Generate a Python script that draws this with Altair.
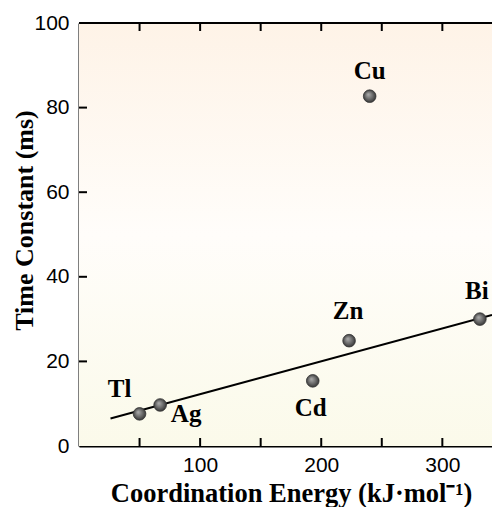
import altair as alt
import pandas as pd

# data
metals = ["Tl", "Ag", "Cd", "Zn", "Bi", "Cu"]
energy = [50, 67, 193, 223, 331, 240]
tau = [7.6, 9.7, 15.4, 24.9, 30.0, 82.7]
label_dx = [-20, 26, -2, -1, -3, 0]
label_dy = [-25, 9, 27, -30, -28, -25]

fit_x = [26, 341]
fit_y = [6.5, 31.0]

x_minor = [50, 100, 150, 200, 250, 300]
y_minor = [20, 40, 60, 80]
x_labels = [100, 200, 300]
y_labels = [0, 20, 40, 60, 80, 100]

W, H = 413, 423
XDOM = [0, 341]
YDOM = [0, 100]

pts = pd.DataFrame({"m": metals, "e": energy, "t": tau, "dx": label_dx, "dy": label_dy})
fit = pd.DataFrame({"e": fit_x, "t": fit_y})
xt = pd.DataFrame({"v": x_minor})
yt = pd.DataFrame({"v": y_minor})

xs = alt.Scale(domain=XDOM, nice=False, zero=False)
ys = alt.Scale(domain=YDOM, nice=False, zero=False)

bg = alt.Chart(pd.DataFrame({"a": [0]})).mark_rect(
    fill=alt.LinearGradient(
        gradient="linear", x1=0, y1=0, x2=0, y2=1,
        stops=[alt.GradientStop(color="#fef3e7", offset=0),
               alt.GradientStop(color="#fffdfa", offset=0.5),
               alt.GradientStop(color="#fbfaea", offset=1)]),
    stroke=None,
).encode(x=alt.value(0), x2=alt.value(W), y=alt.value(0), y2=alt.value(H))

line = alt.Chart(fit).mark_line(color="black", strokeWidth=2, clip=True).encode(
    x=alt.X("e:Q", scale=xs, axis=alt.Axis(
        values=x_labels, title="Coordination Energy (kJ·mol⁻¹)", grid=False,
        ticks=False, tickSize=0, labelPadding=8,
        labelFont="Liberation Sans", labelFontSize=21, labelColor="black",
        domainColor="black", domainWidth=2,
        titleFont="Liberation Serif", titleFontSize=26.5, titleFontWeight="bold",
        titleColor="black", titleBaseline="alphabetic", titleY=55, titleX=212)),
    y=alt.Y("t:Q", scale=ys, axis=alt.Axis(
        values=y_labels, title="Time Constant (ms)", grid=False,
        ticks=False, tickSize=0, labelPadding=10,
        labelFont="Liberation Sans", labelFontSize=21, labelColor="black",
        domainColor="black", domainWidth=2,
        titleFont="Liberation Serif", titleFontSize=26, titleFontWeight="bold",
        titleColor="black", titleBaseline="alphabetic", titleX=-47, titleY=197,
        titleAngle=-90)),
)

xticks_b = alt.Chart(xt).mark_rule(color="black", strokeWidth=2).encode(
    x=alt.X("v:Q", scale=xs), y=alt.value(H - 8), y2=alt.value(H))
xticks_t = alt.Chart(xt).mark_rule(color="black", strokeWidth=2).encode(
    x=alt.X("v:Q", scale=xs), y=alt.value(0), y2=alt.value(8))
yticks = alt.Chart(yt).mark_rule(color="black", strokeWidth=2).encode(
    y=alt.Y("v:Q", scale=ys), x=alt.value(0), x2=alt.value(8))
top = alt.Chart(pd.DataFrame({"a": [0]})).mark_rule(color="black", strokeWidth=2).encode(
    x=alt.value(0), x2=alt.value(W), y=alt.value(0))

points = alt.Chart(pts).mark_point(
    filled=True, size=160, opacity=1,
    fill=alt.RadialGradient(
        gradient="radial", x1=0.38, y1=0.35, r1=0.0, x2=0.5, y2=0.5, r2=0.55,
        stops=[alt.GradientStop(color="#b0b0b0", offset=0),
               alt.GradientStop(color="#6a6a6a", offset=0.55),
               alt.GradientStop(color="#2e2e2e", offset=1)]),
    stroke="#333333", strokeWidth=0.8,
).encode(x=alt.X("e:Q", scale=xs), y=alt.Y("t:Q", scale=ys))

labels = []
for m, e, t, dx, dy in zip(metals, energy, tau, label_dx, label_dy):
    d = pd.DataFrame({"m": [m], "e": [e], "t": [t]})
    labels.append(alt.Chart(d).mark_text(
        font="Liberation Serif", fontSize=25, fontWeight="bold", color="black",
        dx=dx, dy=dy, align="center", baseline="middle").encode(
        x=alt.X("e:Q", scale=xs), y=alt.Y("t:Q", scale=ys), text="m:N"))

chart = alt.layer(bg, line, xticks_b, xticks_t, yticks, top, points, *labels).properties(
    width=W, height=H,
    autosize=alt.AutoSizeParams(type="none"),
    padding={"left": 79, "top": 23, "right": 0, "bottom": 61},
).configure_view(stroke=None).configure(background="white")

chart.save("out.html", embed_options={"renderer": "svg", "actions": False})
